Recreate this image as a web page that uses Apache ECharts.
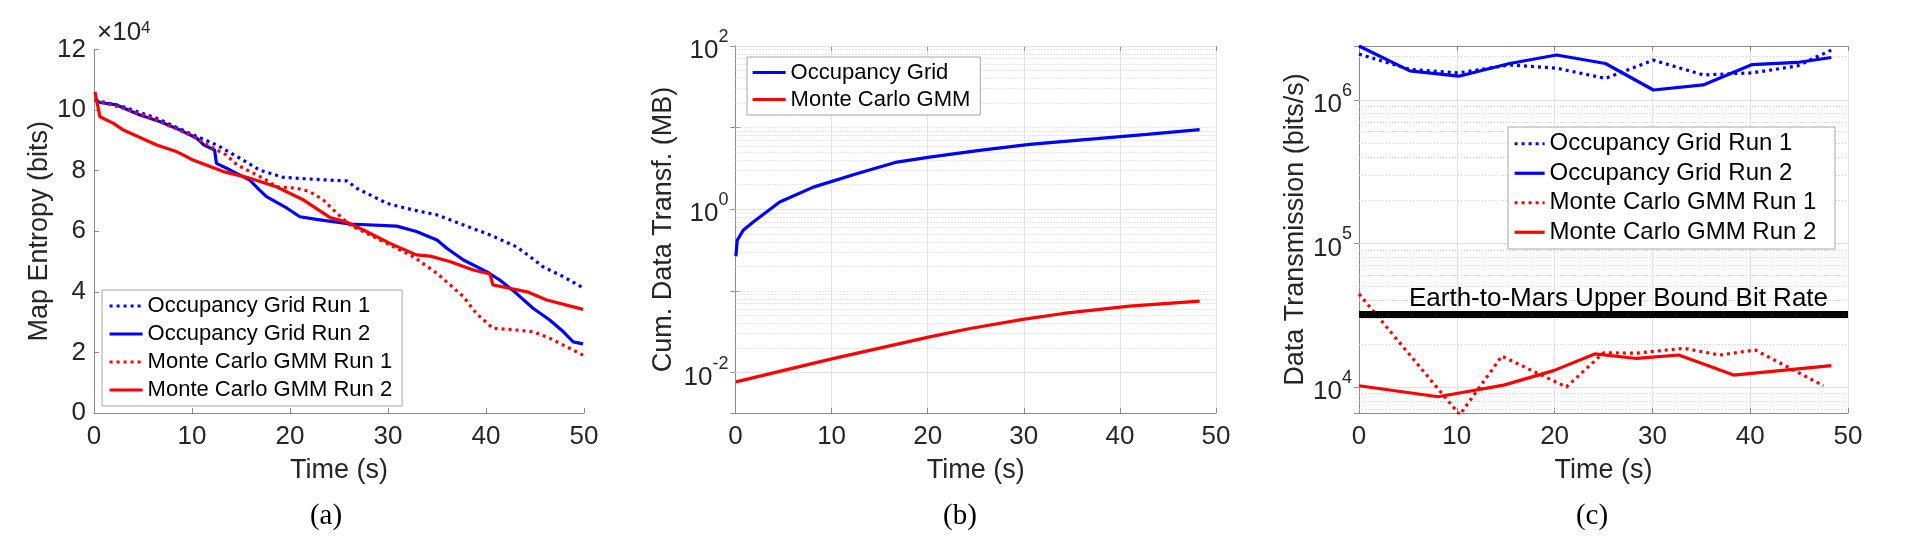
<!DOCTYPE html>
<html>
<head>
<meta charset="utf-8">
<title>Map entropy and data transmission</title>
<script src="https://cdn.jsdelivr.net/npm/echarts@6/dist/echarts.min.js"></script>
<style>
  html, body { margin: 0; background: #fff; }
  #chart { width: 1920px; height: 543px; }
</style>
</head>
<body>
<div id="chart"></div>
<script>
// (a) map entropy, values in units of 1e4 bits: [time s, entropy]
const entropyOgRun1 = [[0.1, 10.33], [3.0, 10.11], [6.4, 9.73], [9.8, 9.23], [12.5, 8.85], [14.9, 8.41], [16.9, 8.02], [19.3, 7.78], [22.7, 7.71], [25.8, 7.66], [26.8, 7.42], [29.9, 6.92], [32.6, 6.7], [35, 6.54], [37.7, 6.21], [40.4, 5.88], [43.1, 5.49], [44.5, 5.16], [45.8, 4.83], [47.9, 4.5], [49.8, 4.15]];
const entropyOgRun2 = [[0.1, 10.35], [0.6, 10.25], [2.3, 10.17], [4.7, 9.84], [6.7, 9.62], [8.8, 9.34], [10.5, 9.07], [11.2, 8.85], [12.3, 8.68], [12.5, 8.24], [13.9, 8.02], [15.9, 7.69], [16.9, 7.36], [17.6, 7.14], [19.7, 6.76], [21.0, 6.48], [22.7, 6.39], [26.1, 6.24], [30.9, 6.17], [32.9, 5.99], [35, 5.71], [36, 5.44], [37.7, 5.05], [40.1, 4.66], [41.4, 4.39], [43.1, 3.95], [44.8, 3.46], [46.5, 3.07], [47.9, 2.68], [48.9, 2.35], [49.9, 2.28]];
const entropyMcRun1 = [[0.1, 10.33], [3.0, 10.06], [6.4, 9.67], [9.8, 9.18], [12.2, 8.74], [13.5, 8.52], [14.6, 8.19], [16.3, 7.91], [17.6, 7.69], [18.6, 7.47], [20.7, 7.42], [22, 7.31], [23.4, 7.03], [24.8, 6.59], [26.1, 6.21], [29.2, 5.71], [32.6, 5.16], [35, 4.61], [37.7, 3.84], [39, 3.29], [40.7, 2.8], [43.1, 2.74], [44.8, 2.68], [46.5, 2.47], [49.9, 1.91]];
const entropyMcRun2 = [[0.1, 10.6], [0.6, 9.78], [2.0, 9.56], [3.0, 9.34], [6.4, 8.85], [8.4, 8.63], [9.1, 8.52], [10.1, 8.35], [13.2, 7.97], [15.6, 7.78], [18.6, 7.47], [21.4, 7.03], [24.1, 6.45], [25.8, 6.3], [27.5, 6.04], [30.2, 5.6], [32.9, 5.22], [34.3, 5.18], [36.3, 5.0], [38.7, 4.72], [40.4, 4.59], [40.7, 4.23], [42.4, 4.12], [44.2, 4.0], [46.2, 3.73], [49.9, 3.42]];

// (b) cumulative data transferred, MB
const cumOg = [[0.04, 0.266], [0.18, 0.418], [0.8, 0.553], [1.85, 0.70], [4.6, 1.23], [8.1, 1.87], [12.6, 2.73], [16.8, 3.79], [20.2, 4.36], [25.4, 5.27], [30.6, 6.24], [37.6, 7.32], [42.8, 8.27], [48.3, 9.44]];
const cumMc = [[0.04, 0.0077], [9.8, 0.0145], [20.2, 0.0274], [24.4, 0.0347], [29.9, 0.0448], [34.1, 0.053], [41, 0.0651], [48.3, 0.0749]];

// (c) data transmission rate, bits/s
const rateOgTimes = [0, 5.2, 10.2, 15.4, 20.2, 25.2, 30.1, 35.2, 40.2, 44.8, 48.3];
const rateOgRun1 = [2.08e6, 1.63e6, 1.54e6, 1.75e6, 1.66e6, 1.41e6, 1.89e6, 1.49e6, 1.54e6, 1.72e6, 2.22e6];
const rateOgRun2 = [2.37e6, 1.59e6, 1.46e6, 1.79e6, 2.05e6, 1.79e6, 1.17e6, 1.27e6, 1.76e6, 1.82e6, 1.97e6];
const rateMcRun1Times = [0, 10.3, 14.6, 21.2, 25.0, 28.4, 33.2, 36.9, 40.5, 47.5];
const rateMcRun1 = [4.45e4, 6400, 1.64e4, 1.0e4, 1.73e4, 1.72e4, 1.86e4, 1.67e4, 1.81e4, 1.02e4];
const rateMcRun2Times = [0, 8.1, 14.8, 19.9, 24.1, 28.4, 32.7, 38.3, 48.3];
const rateMcRun2 = [1.02e4, 8550, 1.03e4, 1.30e4, 1.70e4, 1.58e4, 1.67e4, 1.21e4, 1.41e4];
const marsBitRate = 32000;

const entropyTicks = [0, 12, 2];   // min, max, step (x1e4 bits)
const timeTicks = [0, 50, 10];

const FONT = 'Liberation Sans, Arial, Helvetica, sans-serif';
const SERIF = 'Liberation Serif, Times New Roman, serif';
const TXT = '#262626';
const AXIS = '#8c8c8c';
const BLUE = '#0000ff';
const RED = '#ff0000';
const DOT = [3, 4];
const LW = 3.2;

const zip = (xs, ys) => xs.map((x, i) => [x, ys[i]]);

// MATLAB style log grid: solid at labelled decades, dotted at the rest
const logGrid = (min, max, step) => {
  const lines = [];
  for (let e = Math.floor(Math.log10(min)); e <= Math.ceil(Math.log10(max)); e++) {
    for (let m = 1; m <= 9; m++) {
      const v = m * Math.pow(10, e);
      if (v < min * 1.0001 || v > max * 1.0001) continue;
      const major = m === 1 && e % step === 0;
      lines.push({
        yAxis: v,
        lineStyle: major ? {type: 'solid', color: '#e2e2e2', width: 1} : {type: [1, 2], color: '#cfcfcf', width: 1}
      });
    }
  }
  return lines;
};

const powLabel = (step) => (v) => {
  const e = Math.log10(v);
  const n = Math.round(e);
  if (Math.abs(e - n) > 1e-6 || n % step !== 0) return '';
  return '{b|10}{e|' + n + '}';
};
const powRich = {
  b: {fontSize: 26, fontFamily: FONT, color: TXT, lineHeight: 36, verticalAlign: 'bottom'},
  e: {fontSize: 18, fontFamily: FONT, color: TXT, verticalAlign: 'top'}
};

const tick = {show: true, inside: true, length: 5, lineStyle: {color: AXIS}};

const timeAxis = (idx, grid) => ({
  type: 'value', gridIndex: idx, min: timeTicks[0], max: timeTicks[1], interval: timeTicks[2],
  name: 'Time (s)', nameLocation: 'middle', nameGap: 44,
  nameTextStyle: {fontSize: 27, fontFamily: FONT, color: TXT},
  axisLine: {show: true, lineStyle: {color: AXIS, width: 1}},
  axisTick: tick,
  axisLabel: {fontSize: 26, fontFamily: FONT, color: TXT, margin: 11},
  splitLine: {show: grid, lineStyle: {color: '#e2e2e2', width: 1}}
});

// box axes on top / right of (b) and (c), ticks only
const topAxis = (idx) => ({
  type: 'value', gridIndex: idx, position: 'top', min: timeTicks[0], max: timeTicks[1], interval: timeTicks[2],
  axisLine: {show: true, lineStyle: {color: AXIS, width: 1}}, axisTick: tick,
  axisLabel: {show: false}, splitLine: {show: false}
});
const rightAxis = (idx, min, max) => ({
  type: 'log', logBase: 10, gridIndex: idx, position: 'right', min: min, max: max,
  axisLine: {show: true, lineStyle: {color: AXIS, width: 1}}, axisTick: tick,
  axisLabel: {show: false}, splitLine: {show: false}
});

const lineSeries = (name, data, color, dotted, xi) => ({
  type: 'line', name: name, data: data, xAxisIndex: xi, yAxisIndex: xi,
  showSymbol: false, symbol: 'none', z: 3,
  lineStyle: {color: color, width: LW, type: dotted ? DOT : 'solid'},
  itemStyle: {color: color}
});

const gridSeries = (xi, lines) => ({
  type: 'line', name: 'grid' + xi, data: [], xAxisIndex: xi, yAxisIndex: xi,
  markLine: {silent: true, symbol: ['none', 'none'], z: 1, animation: false, label: {show: false}, data: lines}
});

const legendBox = (left, top, names, fontSize, lineHeight, itemWidth, padding) => ({
  left: left, top: top, orient: 'vertical', data: names, selectedMode: false,
  itemWidth: itemWidth, itemHeight: 1, itemGap: 0, padding: padding,
  itemStyle: {opacity: 0},
  lineStyle: {width: LW},
  backgroundColor: '#fff', borderColor: '#a6a6a6', borderWidth: 1,
  textStyle: {fontSize: fontSize, fontFamily: FONT, color: '#000', lineHeight: lineHeight}
});

const bMin = 0.0032, bMax = 100;
const cMin = 6590, cMax = 2.37e6;

const option = {
  animation: false,
  backgroundColor: '#fff',
  grid: [
    {left: 94, top: 49.5, width: 490, height: 363.5},
    {left: 735.5, top: 46, width: 480.5, height: 367},
    {left: 1359, top: 46, width: 489, height: 367}
  ],
  xAxis: [timeAxis(0, false), timeAxis(1, true), timeAxis(2, true), topAxis(1), topAxis(2)],
  yAxis: [
    {
      type: 'value', gridIndex: 0, min: entropyTicks[0], max: entropyTicks[1], interval: entropyTicks[2],
      name: 'Map Entropy (bits)', nameLocation: 'middle', nameGap: 39,
      nameTextStyle: {fontSize: 27, fontFamily: FONT, color: TXT},
      axisLine: {show: true, lineStyle: {color: AXIS, width: 1}},
      axisTick: tick,
      axisLabel: {fontSize: 26, fontFamily: FONT, color: TXT, margin: 8},
      splitLine: {show: false}
    },
    {
      type: 'log', logBase: 10, gridIndex: 1, min: bMin, max: bMax,
      name: 'Cum. Data Transf. (MB)', nameLocation: 'middle', nameGap: 58,
      nameTextStyle: {fontSize: 27, fontFamily: FONT, color: TXT},
      axisLine: {show: true, lineStyle: {color: AXIS, width: 1}},
      axisTick: tick,
      axisLabel: {formatter: powLabel(2), rich: powRich, margin: 7},
      splitLine: {show: false}
    },
    {
      type: 'log', logBase: 10, gridIndex: 2, min: cMin, max: cMax,
      name: 'Data Transmission (bits/s)', nameLocation: 'middle', nameGap: 50,
      nameTextStyle: {fontSize: 27, fontFamily: FONT, color: TXT},
      axisLine: {show: true, lineStyle: {color: AXIS, width: 1}},
      axisTick: tick,
      axisLabel: {formatter: powLabel(1), rich: powRich, margin: 7},
      splitLine: {show: false}
    },
    rightAxis(1, bMin, bMax),
    rightAxis(2, cMin, cMax)
  ],
  legend: [
    legendBox(102, 290, ['Occupancy Grid Run 1', 'Occupancy Grid Run 2', 'Monte Carlo GMM Run 1', 'Monte Carlo GMM Run 2'], 22, 28, 33, [2, 10, 2, 6]),
    legendBox(747, 57, ['Occupancy Grid', 'Monte Carlo GMM'], 22, 27, 33, [2, 10, 2, 4]),
    legendBox(1508, 127, ['Occupancy Grid Run 1 ', 'Occupancy Grid Run 2 ', 'Monte Carlo GMM Run 1 ', 'Monte Carlo GMM Run 2 '], 24, 29.5, 30, [2, 12, 2, 5])
  ],
  graphic: [
    {type: 'text', x: 97, y: 20, style: {text: '×10{e|4}', fontSize: 26, fontFamily: FONT, fill: TXT,
      rich: {e: {fontSize: 17, fontFamily: FONT, color: TXT, verticalAlign: 'top'}}}},
    {type: 'text', x: 326, y: 516, style: {text: '(a)', align: 'center', verticalAlign: 'middle', fontSize: 29, fontFamily: SERIF, fill: '#000'}},
    {type: 'text', x: 960, y: 516, style: {text: '(b)', align: 'center', verticalAlign: 'middle', fontSize: 29, fontFamily: SERIF, fill: '#000'}},
    {type: 'text', x: 1592, y: 516, style: {text: '(c)', align: 'center', verticalAlign: 'middle', fontSize: 29, fontFamily: SERIF, fill: '#000'}}
  ],
  series: [
    lineSeries('Occupancy Grid Run 1', entropyOgRun1, BLUE, true, 0),
    lineSeries('Occupancy Grid Run 2', entropyOgRun2, BLUE, false, 0),
    lineSeries('Monte Carlo GMM Run 1', entropyMcRun1, RED, true, 0),
    lineSeries('Monte Carlo GMM Run 2', entropyMcRun2, RED, false, 0),

    gridSeries(1, logGrid(bMin, bMax, 2)),
    lineSeries('Occupancy Grid', cumOg, BLUE, false, 1),
    lineSeries('Monte Carlo GMM', cumMc, RED, false, 1),

    // trailing space keeps (c) legend apart from (a) legend
    gridSeries(2, logGrid(cMin, cMax, 1)),
    lineSeries('Occupancy Grid Run 1 ', zip(rateOgTimes, rateOgRun1), BLUE, true, 2),
    lineSeries('Occupancy Grid Run 2 ', zip(rateOgTimes, rateOgRun2), BLUE, false, 2),
    lineSeries('Monte Carlo GMM Run 1 ', zip(rateMcRun1Times, rateMcRun1), RED, true, 2),
    lineSeries('Monte Carlo GMM Run 2 ', zip(rateMcRun2Times, rateMcRun2), RED, false, 2),
    {
      type: 'line', name: 'Earth-to-Mars Upper Bound Bit Rate', data: [], xAxisIndex: 2, yAxisIndex: 2,
      markLine: {
        silent: true, symbol: ['none', 'none'], z: 4, animation: false,
        lineStyle: {color: '#000', width: 7, type: 'solid'},
        label: {show: true, position: 'insideMiddleTop', formatter: 'Earth-to-Mars Upper Bound Bit Rate',
          fontSize: 26, fontFamily: FONT, color: '#000', distance: 3, offset: [15, 0]},
        data: [{yAxis: marsBitRate}]
      }
    }
  ]
};

const chart = echarts.init(document.getElementById('chart'));
chart.setOption(option);
</script>
</body>
</html>
